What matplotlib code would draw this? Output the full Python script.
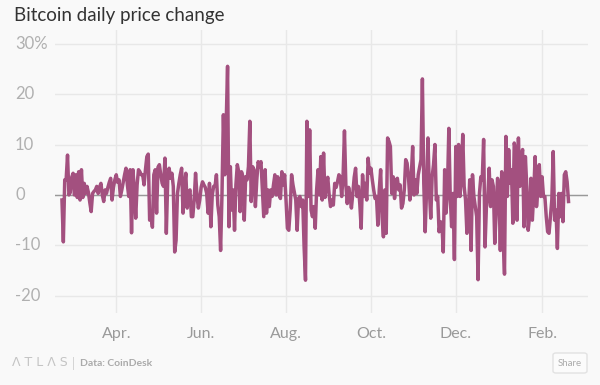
import matplotlib

matplotlib.use('Agg')
import matplotlib.pyplot as plt
import matplotlib.dates as mdates
import matplotlib.transforms as mtransforms
from matplotlib.patches import FancyBboxPatch
import pandas as pd

# 日次変化率（%）。画像から目で読み取った値
start_date = '2014-02-21'
seg_feb_apr = [-1, -9.3, 3, 3, 7.9, 0, 0.5, 3.5, 4.3, 0,
               4, -0.5, 4.6, -1, 5, -0.5, 2.3, 0.3, 1.7, 0.5,
               -1.5, -3.3, 0.3, 0.7, 1, 1.7, 0.3, 1.5, 2.3, 0,
               -1.3, 1, 0.3, 1.5, 2.5, 3.3, -1, 1.5, 3, 4,
               2.5, 3, -0.3, 1, 2.5, 4, 5.3, 2, -0.3, 5,
               -7.5, 5, 1, -4.6, 2, 5]
seg_apr_jun = [4.6, 4, 4, 2, 5, 7.6, 8.1, -5, -4, -6.4,
               4, 5, -3.6, 5.5, 6, 4, 2.3, 1.7, 7.3, -7.6,
               3, 5.3, 3.3, 4.3, 1.7, -11.3, -9, 0.3, 2.3, 4,
               5.3, -3.6, 1.7, 4.3, -2.6, 0.5, 1, -4.3, -4.3, -1,
               4.3, 0, -2.6, -1, 1.5, 2.6, 2, 1.5, 0.3, -3.6,
               2.3, -6.3, 0, 1.7, 1.7, 4, -2, -4.3, -11, 0.3,
               15.9, 4, 14, 25.5, -6.3, 5.6]
seg_jun_aug = [-3, 1, -7, 2, 6, 4.6, -3.3, 4.6, 3.6, -5,
               3.6, 3, 5.6, 14.6, -1.3, 5.6, 5, -2.3, 3, 6.6,
               5.6, 6.6, 1, -4.3, 5, -3.6, 1, -2.3, 1, -0.3,
               2, 4, 0, 3.6, 0, -0.7, 4.6, 2, 4, -1,
               -6.6, -7, -3, 4, 2, 0.5, -1, -7, -0.7, -0.3,
               -2.3, -1, -10.3, -16.9, 14.6, -0.3, 12.9, -3, -4.3, -2.3,
               -6.6, 1, 5, 0, 7.6]
seg_aug_oct = [-1, 8.3, -0.5, 2, 3.5, 0, -2.3, -1, -2, 2.3,
               1.5, 2.6, 4, 3.6, -0.3, 3.6, 12.7, 2, -1.7, 1.5,
               -0.3, -2.6, 0.3, 3.5, 5.3, -0.3, 1.7, -1.7, -6.6, 4,
               -0.3, 2.3, -1, 7.3, 4.3, 5.3, 3, 1, -0.7, -0.3,
               -6, 1, 5, -4.3, -8.3, 1, -7.6, 11.3, 10.6, 9.6,
               0.3, 3.6, -0.7, 3, 3.3, 1, 2, -2.6, -1.7, 1,
               7, 6.3, 3.6, -1]
seg_oct_dec = [3.6, 9.6, 0, 3, 0.3, 4, 5.5, 7, 23, 2.3,
               -7.3, 1, 11.3, 1, -4.6, 3.6, 6, 10, -1, -0.3,
               -7.3, -5.3, -5.6, -11.3, 5, -3.6, 1, 13.2, -0.3, -6.3,
               0.3, -12.8, 9.6, -0.3, 10, -0.3, 3.6, 12, 1.7, -1,
               -7.6, -3.6, 3, -11, 4, -0.3, -2.3, -4.3, -16.8, 0.3,
               3.6, 3, 11, -10.3, -2.3, -0.3, 5.3, -2.3, 3, 1.7,
               -9.6, -3.6, 3.3, 1.7, -11]
seg_dec_feb = [4.6, -8.3, -15.7, 11.6, -0.3, 9, 2.3, 5, -5.6, 10.3,
               8.9, -5, 11.3, 1.7, 7, 9, -6.3, 7.6, 1.7, -7,
               -4.3, 3.3, -5, 0.3, 7.6, -2.3, 1, 6, -0.3, 3.6,
               -0.3, -0.3, -4.3, -7.3, -7.6, -4.3, -1, 8.6, -5, -3,
               -10.6, 0.3, -4.3, 0.3, -5.3, 4, 4.6, 2.6, -1.3]

y_ticks = [-20, -10, 0, 10, 20, 30]
y_tick_labels = ['-20', '-10', '0', '10', '20', '30%']

BG = '#f9f9f9'
LINE = '#a3507f'


def main():
    plt.rcParams['font.family'] = ['Lato', 'DejaVu Sans']

    values = seg_feb_apr + seg_apr_jun + seg_jun_aug + seg_aug_oct + seg_oct_dec + seg_dec_feb
    dates = pd.date_range(start_date, periods=len(values), freq='D')
    s = pd.Series(values, index=dates)

    fig = plt.figure(figsize=(6, 3.85), dpi=100, facecolor=BG)
    ax = fig.add_axes([55 / 600, 72 / 385, 533 / 600, 283 / 385])  # 描画領域（ピクセルから換算）
    ax.set_facecolor(BG)

    ax.plot(s.index, s.values, color=LINE, lw=2.5, solid_joinstyle='round', zorder=3)
    ax.axhline(0, color='#999999', lw=1, zorder=2)

    ax.set_ylim(-23.4, 32.7)
    ax.set_xlim(dates[0] - pd.Timedelta(days=5), dates[0] + pd.Timedelta(days=378))
    ax.set_yticks(y_ticks)
    ax.set_yticklabels([])
    ax.xaxis.set_major_locator(mdates.MonthLocator(bymonth=[2, 4, 6, 8, 10, 12]))
    ax.xaxis.set_major_formatter(mdates.DateFormatter('%b.'))
    ax.tick_params(axis='y', length=0)
    ax.tick_params(axis='x', length=0, pad=10, labelsize=11.5, labelcolor='#9a9a9a')
    ax.grid(True, color='#e8e8e8', lw=1, zorder=0)
    for sp in ax.spines.values():
        sp.set_visible(False)

    # Ｙ軸の目盛ラベルは左寄せ
    trans = mtransforms.blended_transform_factory(fig.transFigure, ax.transData)
    for v, lab in zip(y_ticks, y_tick_labels):
        ax.text(15 / 600, v, lab, transform=trans, ha='left', va='center',
                fontsize=12, color='#b0b0b0')

    fig.text(14 / 600, 1 - 15 / 385, 'Bitcoin daily price change', ha='left', va='center',
             fontsize=13.5, color='#333333')

    # フッター
    fig.text(12 / 600, 1 - 363 / 385, 'Λ T L Λ S', ha='left', va='center',
             fontsize=9, color='#c4c4c4', family=['DejaVu Sans'])
    fig.text(72 / 600, 1 - 363 / 385, '|', ha='left', va='center', fontsize=9, color='#d0d0d0')
    fig.text(80 / 600, 1 - 363 / 385, 'Data: CoinDesk', ha='left', va='center',
             fontsize=7.5, color='#aaaaaa', fontweight='bold')
    box = FancyBboxPatch((553 / 600, 1 - 373 / 385), 34 / 600, 20 / 385,
                         boxstyle='round,pad=0,rounding_size=0.005', transform=fig.transFigure,
                         facecolor='#fbfbfb', edgecolor='#e2e2e2', lw=1)
    fig.patches.append(box)
    fig.text(570 / 600, 1 - 363 / 385, 'Share', ha='center', va='center',
             fontsize=7, color='#aaaaaa')

    plt.savefig('out.png', dpi=100, facecolor=BG)


if __name__ == '__main__':
    main()
